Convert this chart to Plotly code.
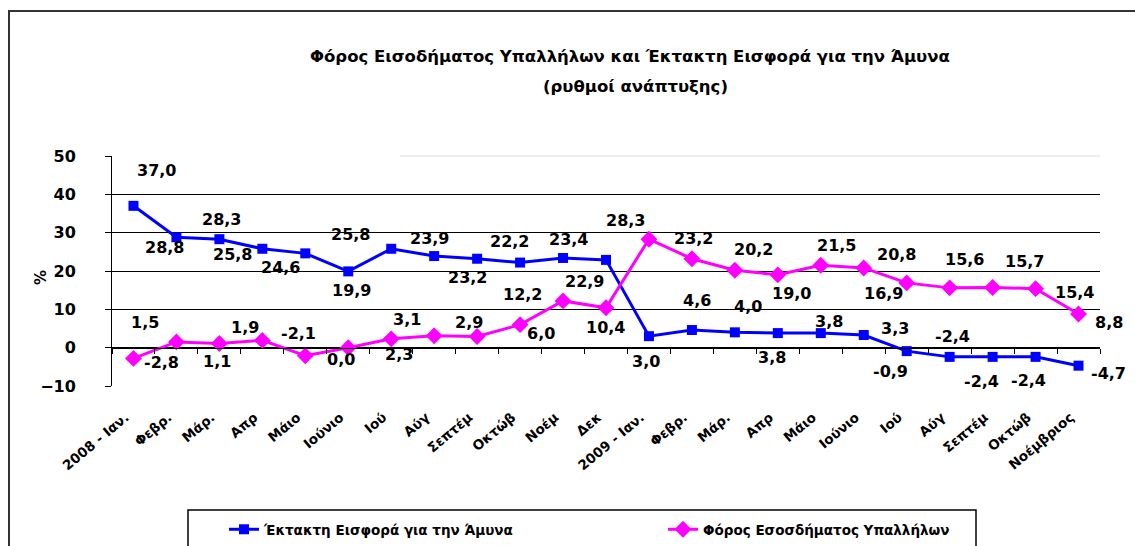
import plotly.graph_objects as go

# ---------------- data ----------------
categories = ["2008 - Ιαν.", "Φεβρ.", "Μάρ.", "Απρ", "Μάιο", "Ιούνιο", "Ιού", "Αύγ",
              "Σεπτέμ", "Οκτώβ", "Νοέμ", "Δεκ",
              "2009 - Ιαν.", "Φεβρ.", "Μάρ.", "Απρ", "Μάιο", "Ιούνιο", "Ιού", "Αύγ",
              "Σεπτέμ", "Οκτώβ", "Νοέμβριος"]
defence_levy = [37.0, 28.8, 28.3, 25.8, 24.6, 19.9, 25.8, 23.9, 23.2, 22.2, 23.4, 22.9,
                3.0, 4.6, 4.0, 3.8, 3.8, 3.3, -0.9, -2.4, -2.4, -2.4, -4.7]
income_tax = [-2.8, 1.5, 1.1, 1.9, -2.1, 0.0, 2.3, 3.1, 2.9, 6.0, 12.2, 10.4,
              28.3, 23.2, 20.2, 19.0, 21.5, 20.8, 16.9, 15.6, 15.7, 15.4, 8.8]
y_ticks = [-10, 0, 10, 20, 30, 40, 50]
name_levy = "Έκτακτη Εισφορά για την Άμυνα"
name_tax = "Φόρος Εσοσδήματος Υπαλλήλων"
title_1 = "Φόρος Εισοδήματος Υπαλλήλων και Έκτακτη Εισφορά για την Άμυνα"
title_2 = "(ρυθμοί ανάπτυξης)"

# ---------------- label offsets (px, styling) ----------------
levy_off = [(23, 35), (-12, -10), (2, 20), (-30, -6), (-25, -14), (3, -19), (-41, 14),
            (-5, 18), (-10, -19), (-11, 21), (5, 18), (-22, -22), (-3, -25), (5, 30),
            (13, 26), (-6, -24), (8, 12), (31, 7), (-16, -20), (3, 20), (-11, -25),
            (-7, -24), (30, -8)]
tax_off = [(28, -4), (-31, 19), (-2, -18), (-17, 13), (-7, 22), (-7, -12), (8, -16),
           (-27, 16), (-8, 14), (21, -9), (-41, 6), (-1, -20), (-23, 19), (2, 20),
           (19, 21), (14, -19), (16, 20), (33, 13), (-23, -11), (15, 28), (32, 26),
           (39, -4), (30, -9)]

# ---------------- geometry ----------------
W, H = 1135, 546
L, R, T, B = 112, 1100, 156, 386
pw, ph = R - L, B - T


def px(xp):
    return (xp - L) / pw


def py(yp):
    return (B - yp) / ph


FONT = "DejaVu Sans"
xs = list(range(len(categories)))

fig = go.Figure()
fig.add_trace(go.Scatter(
    x=xs, y=defence_levy, name=name_levy, mode="lines+markers",
    line=dict(color="#0000FF", width=3),
    marker=dict(symbol="square", size=10, color="#0000FF"),
    hoverinfo="skip"))
fig.add_trace(go.Scatter(
    x=xs, y=income_tax, name=name_tax, mode="lines+markers",
    line=dict(color="#FF00FF", width=3),
    marker=dict(symbol="diamond", size=13, color="#FF00FF"),
    hoverinfo="skip"))
# helper (invisible) trace so the zero-crossing axis is rendered
fig.add_trace(go.Scatter(x=xs, y=defence_levy, xaxis="x2", yaxis="y", mode="markers",
                         marker=dict(opacity=0), showlegend=False, hoverinfo="skip"))


def fmt(v):
    return f"{v:.1f}".replace(".", ",")


annotations = []
for series, offs in ((defence_levy, levy_off), (income_tax, tax_off)):
    for i, v in enumerate(series):
        annotations.append(dict(
            x=xs[i], y=v, xref="x", yref="y", text=fmt(v), showarrow=False,
            xshift=offs[i][0], yshift=offs[i][1],
            font=dict(family=FONT, size=16, color="black", weight="bold")))

annotations += [
    dict(x=px(630), y=py(45), xref="paper", yref="paper", text=title_1, showarrow=False,
         font=dict(family=FONT, size=16.5, color="black", weight="bold")),
    dict(x=px(635), y=py(75), xref="paper", yref="paper", text=title_2, showarrow=False,
         font=dict(family=FONT, size=16.5, color="black", weight="bold")),
    dict(x=px(30), y=py(278), xref="paper", yref="paper", text="%", showarrow=False,
         textangle=-90, font=dict(family=FONT, size=15, color="black", weight="bold")),
]

shapes = [
    # outer frame
    dict(type="rect", xref="paper", yref="paper", x0=px(9), x1=px(1150), y0=py(560), y1=py(11),
         line=dict(color="#333333", width=2)),
    # legend box
    dict(type="rect", xref="paper", yref="paper", x0=px(188), x1=px(976), y0=py(560), y1=py(510),
         line=dict(color="black", width=1.5)),
    # faint top line
    dict(type="line", xref="paper", yref="paper", x0=px(400), x1=1, y0=1, y1=1,
         line=dict(color="#dddddd", width=1)),
]

fig.update_layout(
    width=W, height=H,
    margin=dict(l=L, r=W - R, t=T, b=H - B, pad=0, autoexpand=False),
    paper_bgcolor="white", plot_bgcolor="white",
    showlegend=True,
    legend=dict(orientation="h", x=px(224), y=py(514), xanchor="left", yanchor="top",
                bgcolor="rgba(0,0,0,0)", borderwidth=0,
                entrywidth=394, entrywidthmode="pixels",
                font=dict(family=FONT, size=13.5, color="black", weight="bold")),
    xaxis=dict(range=[-0.5, len(categories) - 0.5], tickmode="array", tickvals=xs,
               ticktext=categories, tickangle=-40, showgrid=False, zeroline=False,
               showline=False, ticks="", ticklabelstandoff=20, ticklabelshift=-8,
               tickfont=dict(family=FONT, size=13.5, color="black", weight="bold")),
    xaxis2=dict(range=[-0.5, len(categories) - 0.5], overlaying="x", anchor="free",
                position=10 / 60, side="bottom", tickmode="linear", tick0=-0.5, dtick=1,
                ticks="outside", ticklen=5, tickcolor="black", showticklabels=False,
                showline=True, linecolor="black", linewidth=1, showgrid=False, zeroline=False),
    yaxis=dict(range=[-10, 50], tickmode="array", tickvals=y_ticks, showgrid=True,
               gridcolor="black", gridwidth=1, zeroline=False, showline=True,
               linecolor="black", linewidth=1, ticks="outside", ticklen=6, tickcolor="black",
               ticklabelstandoff=26,
               tickfont=dict(family=FONT, size=16, color="black", weight="bold")),
    annotations=annotations,
    shapes=shapes,
)

fig.write_html("out.html", config={"displayModeBar": False},
               post_script="document.body.style.margin='0';document.body.style.overflow='hidden';")
